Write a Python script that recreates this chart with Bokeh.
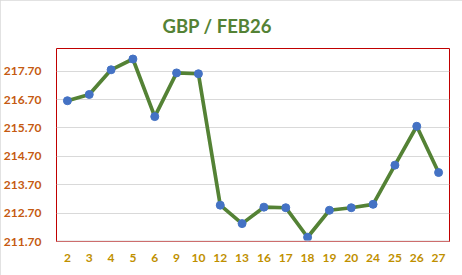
from bokeh.plotting import figure
from bokeh.models import Span, FactorRange, Range1d, FixedTicker, NumeralTickFormatter
from bokeh.embed import file_html
from bokeh.resources import INLINE

days = ["2", "3", "4", "5", "6", "9", "10", "12", "13", "16", "17", "18", "19", "20", "24", "25", "26", "27"]
prices = [216.66, 216.88, 217.75, 218.13, 216.10, 217.64, 217.61, 212.98, 212.33, 212.91,
          212.89, 211.85, 212.80, 212.89, 213.01, 214.39, 215.76, 214.13]
y_ticks = [211.7, 212.7, 213.7, 214.7, 215.7, 216.7, 217.7]
title_text = "GBP / FEB26"

p = figure(width=462, height=275, output_backend="svg", toolbar_location=None,
           x_range=FactorRange(*days), y_range=Range1d(211.7, 218.5),
           min_border_left=53, min_border_right=13, min_border_top=47, min_border_bottom=34)
p.styles = {"outline": "1px solid #D9D9D9", "outline-offset": "-1px"}

p.title.text = title_text
p.title.align = "left"
p.title.text_font = "Lato"
p.title.text_font_size = "18.5px"
p.title.text_font_style = "bold"
p.title.text_color = "#548235"
p.title.offset = 106
p.title.standoff = 24

p.outline_line_color = "#C00000"
p.outline_line_width = 1
p.background_fill_color = "white"
p.border_fill_color = "white"

p.xgrid.grid_line_color = None
p.ygrid.grid_line_color = "#D9D9D9"
p.ygrid.grid_line_width = 1

p.yaxis.ticker = FixedTicker(ticks=y_ticks)
p.yaxis.formatter = NumeralTickFormatter(format="0.00")
p.yaxis.axis_line_color = None
p.yaxis.major_tick_line_color = None
p.yaxis.minor_tick_line_color = None
p.yaxis.major_label_text_font = "Lato"
p.yaxis.major_label_text_font_style = "bold"
p.yaxis.major_label_text_font_size = "12px"
p.yaxis.major_label_text_color = "#C55A11"
p.yaxis.major_label_standoff = 9

p.xaxis.axis_line_color = None
p.xaxis.major_tick_line_color = None
p.xaxis.minor_tick_line_color = None
p.xaxis.major_label_text_font = "Lato"
p.xaxis.major_label_text_font_style = "bold"
p.xaxis.major_label_text_font_size = "12px"
p.xaxis.major_label_text_color = "#BF9000"
p.xaxis.major_label_standoff = 6

# gray bottom edge over the red outline
p.add_layout(Span(location=211.7, dimension="width", line_color="#D9D9D9", line_width=2, level="overlay"))

p.line(days, prices, line_color="#548235", line_width=3.7)
p.scatter(days, prices, size=8, fill_color="#4472C4", line_color="#4472C4")

open("out.html", "w").write(file_html(p, INLINE))
